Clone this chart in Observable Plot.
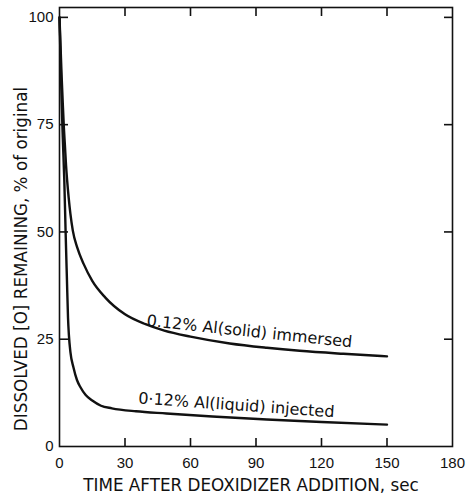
<!DOCTYPE html>
<html>
<head>
<meta charset="utf-8">
<script src="https://cdn.jsdelivr.net/npm/d3@7"></script>
<script src="https://cdn.jsdelivr.net/npm/@observablehq/plot@0.6"></script>
<style>
  html, body { margin: 0; padding: 0; background: #fff; }
</style>
</head>
<body>
<div id="chart"></div>
<script>
// Time (sec) and dissolved [O] remaining (% of original)
const solidTime  = [0, 0.5, 1, 1.5, 2, 2.5, 3, 3.5, 4.2, 5, 6.1, 8.1, 11.1, 15, 21, 30, 39.4, 48, 60, 78, 95, 110, 130, 150];
const solidValue = [100, 93, 86, 80, 74.4, 70, 65.5, 62, 58, 54.2, 50.3, 46.4, 42.5, 38.6, 34.7, 30.8, 28.5, 27, 25.6, 24, 23, 22.3, 21.6, 21];

const liquidTime  = [0, 0.5, 1, 1.5, 2.2, 2.8, 3.4, 3.9, 4.3, 5, 6.4, 8, 9.6, 12, 15, 19, 24, 35, 49, 70, 95, 120, 150];
const liquidValue = [100, 90, 80, 72, 62, 50, 39, 30, 26, 22, 18.4, 15.5, 13.8, 12, 10.7, 9.5, 8.9, 8.2, 7.7, 7, 6.3, 5.7, 5.1];

const xTickLabels = [0, 30, 60, 90, 120, 150, 180];
const yTickLabels = [0, 25, 50, 75, 100];
const xInnerTicks = [30, 60, 90, 120, 150];
const yInnerTicks = [25, 50, 75, 100];

const seriesLabels = ["0.12% Al(solid) immersed", "0·12% Al(liquid) injected"];
const labelTime  = [87, 81];
const labelValue = [26.8, 9.6];
const labelAngle = [6, 4];

const xTitle = "TIME AFTER DEOXIDIZER ADDITION, sec";
const yTitle = "DISSOLVED [O] REMAINING, % of original";

const solid = solidTime.map((t, i) => ({t, v: solidValue[i]}));
const liquid = liquidTime.map((t, i) => ({t, v: liquidValue[i]}));
const labels = seriesLabels.map((s, i) => ({s, t: labelTime[i], v: labelValue[i], a: labelAngle[i]}));

const blank = () => "";
const titleFont = "'DejaVu Sans', Verdana, sans-serif";

const chart = Plot.plot({
  width: 469,
  height: 496,
  marginLeft: 59,
  marginRight: 17,
  marginTop: 7,
  marginBottom: 50,
  x: {domain: [0, 180]},
  y: {domain: [0, 102.3]},
  style: {fontFamily: "'Liberation Sans', Arial, sans-serif", fontSize: "14px", color: "#111", background: "#fff"},
  marks: [
    Plot.frame({stroke: "#111", strokeWidth: 1.6}),
    Plot.axisX(xInnerTicks, {anchor: "bottom", tickSize: -8, tickFormat: blank, label: null, strokeWidth: 1.6}),
    Plot.axisX(xInnerTicks, {anchor: "top", tickSize: -8, tickFormat: blank, label: null, strokeWidth: 1.6}),
    Plot.axisY(yInnerTicks, {anchor: "left", tickSize: -9, tickFormat: blank, label: null, strokeWidth: 1.6}),
    Plot.axisY(yInnerTicks, {anchor: "right", tickSize: -9, tickFormat: blank, label: null, strokeWidth: 1.6}),
    Plot.axisX(xTickLabels, {anchor: "bottom", tickSize: 0, tickPadding: 11, label: null, fontSize: 15}),
    Plot.axisY(yTickLabels, {anchor: "left", tickSize: 0, tickPadding: 6, label: null, fontSize: 15}),
    Plot.line(solid, {x: "t", y: "v", curve: "monotone-x", stroke: "#111", strokeWidth: 2.4}),
    Plot.line(liquid, {x: "t", y: "v", curve: "monotone-x", stroke: "#111", strokeWidth: 2.4}),
    Plot.text(labels, {x: "t", y: "v", text: "s", rotate: "a", fontSize: 16, fontFamily: titleFont, fill: "#111"}),
    Plot.text([xTitle], {text: d => d, frameAnchor: "bottom", dx: -5, dy: 44, fontSize: 16.8, fontFamily: titleFont, fill: "#111"}),
    Plot.text([yTitle], {text: d => d, frameAnchor: "left", textAnchor: "middle", dx: -38, dy: 32, rotate: -90, fontSize: 16.8, fontFamily: titleFont, fill: "#111"})
  ]
});
document.getElementById("chart").append(chart);
</script>
</body>
</html>
